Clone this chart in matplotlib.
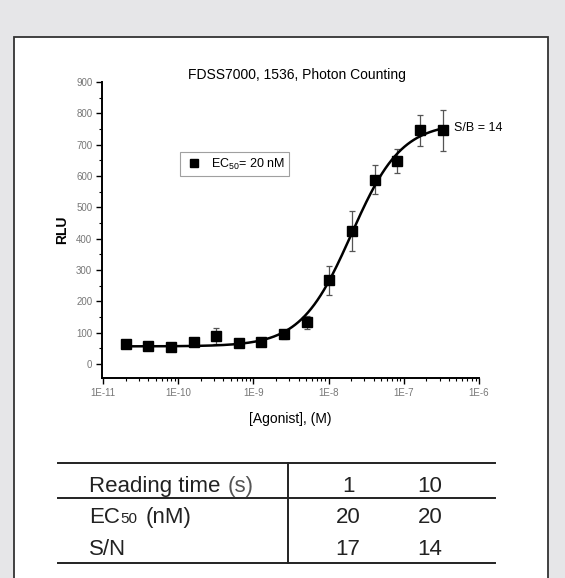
import numpy as np
import matplotlib
matplotlib.use("Agg")
import matplotlib.pyplot as plt
from matplotlib.patches import Rectangle
from matplotlib.ticker import MultipleLocator, LogLocator, NullFormatter, FixedLocator

plt.rcParams['font.family'] = ['Liberation Sans', 'DejaVu Sans']
plt.rcParams['mathtext.fontset'] = 'custom'
plt.rcParams['mathtext.rm'] = 'Liberation Sans'

# dose-response data (2-fold dilution series)
agonist = [2.0e-11, 4.0e-11, 8.0e-11, 1.6e-10, 3.2e-10, 6.4e-10, 1.28e-9, 2.56e-9,
           5.12e-9, 1.02e-8, 2.05e-8, 4.1e-8, 8.2e-8, 1.64e-7, 3.28e-7]
rlu = [63, 56, 53, 70, 90, 66, 70, 94, 133, 267, 424, 588, 648, 746, 746]
rlu_err = [8, 6, 6, 8, 25, 8, 6, 14, 20, 46, 64, 46, 38, 50, 66]

# 4-parameter logistic fit shown in the chart
fit_bottom = 56
fit_top = 770
fit_ec50 = 2.0e-8
fit_hill = 1.3

# x tick labels
x_ticks = [1e-11, 1e-10, 1e-9, 1e-8, 1e-7, 1e-6]
x_tick_labels = ['1E-11', '1E-10', '1E-9', '1E-8', '1E-7', '1E-6']

# summary table
table_header = ["Reading time", "(s)"]
reading_times = ["1", "10"]
ec50_values = ["20", "20"]
sn_values = ["17", "14"]

W, H = 565, 578
bg = '#e6e6e8'
fig = plt.figure(figsize=(W / 100, H / 100), dpi=100, facecolor=bg)

# white panel with border (behind everything)
fig.patches.append(Rectangle((14 / W, -0.05), (548 - 14) / W, 1 - 37 / H + 0.05,
                             transform=fig.transFigure, facecolor='white',
                             edgecolor='#333333', linewidth=1.3, zorder=-10))

ax = fig.add_axes([102 / W, 1 - 378 / H, 377 / W, 296 / H])
ax.set_facecolor('none')

xs = np.logspace(np.log10(agonist[0]), np.log10(agonist[-1]), 300)
fit = fit_bottom + (fit_top - fit_bottom) / (1 + (fit_ec50 / xs) ** fit_hill)
ax.plot(xs, fit, color='black', linewidth=1.8, zorder=2)

ax.errorbar(agonist, rlu, yerr=rlu_err, fmt='none', ecolor='#555555',
            elinewidth=0.9, capsize=2.5, capthick=0.9, zorder=1)
ax.plot(agonist, rlu, 's', color='black', markersize=7.8, zorder=3,
        label=r'EC$_{\mathrm{50}}$= 20 nM')

ax.set_xscale('log')
ax.set_xlim(0.97e-11, 1e-6)
ax.set_ylim(-45, 900)

for s in ['top', 'right']:
    ax.spines[s].set_visible(False)
for s in ['left', 'bottom']:
    ax.spines[s].set_linewidth(1.4)

ax.yaxis.set_major_locator(MultipleLocator(100))
ax.yaxis.set_minor_locator(MultipleLocator(50))
ax.xaxis.set_major_locator(FixedLocator(x_ticks))
ax.set_xticklabels(x_tick_labels)
ax.xaxis.set_minor_locator(LogLocator(base=10, subs=np.arange(2, 10), numticks=20))
ax.xaxis.set_minor_formatter(NullFormatter())

ax.tick_params(which='major', length=4, width=1.0, labelsize=7, labelcolor='#777777', pad=3)
ax.tick_params(which='minor', length=2.5, width=0.8)

ax.set_title('FDSS7000, 1536, Photon Counting', fontsize=10, pad=1.5, x=0.518)
ax.set_ylabel('RLU', fontsize=10, fontweight='bold', labelpad=5)
ax.set_xlabel('[Agonist], (M)', fontsize=10, labelpad=10)

ax.text(4.7e-7, 752, 'S/B = 14', fontsize=9, ha='left', va='center')

leg = ax.legend(loc='upper left', bbox_to_anchor=(0.207, 0.762), fancybox=False,
                edgecolor='#888888', fontsize=9, markerscale=0.75, handlelength=1.5,
                borderpad=0.35, handletextpad=0.6, borderaxespad=0)
leg.get_frame().set_linewidth(0.8)

# summary table, drawn in pixel coordinates
tab = fig.add_axes([0, 0, 1, 1])
tab.set_xlim(0, W)
tab.set_ylim(H, 0)
tab.axis('off')
tab.set_facecolor('none')
line_kw = dict(color='#222222', linewidth=1.4)
for yy in [463, 498, 563]:
    tab.plot([58, 495], [yy, yy], **line_kw)
tab.plot([288, 288], [463, 563], **line_kw)

fs = 16
tab.text(89, 492, table_header[0], fontsize=fs, va='baseline', ha='left', color='#222222')
tab.text(228, 492, table_header[1], fontsize=fs, va='baseline', ha='left', color='#555555')
tab.text(89, 523, 'EC', fontsize=fs, va='baseline', ha='left', color='#222222')
tab.text(120, 523, '50', fontsize=11, va='baseline', ha='left', color='#222222')
tab.text(146, 523, '(nM)', fontsize=fs, va='baseline', ha='left', color='#222222')
tab.text(89, 555, 'S/N', fontsize=fs, va='baseline', ha='left', color='#222222')
col_x = [348, 430]
for row_y, vals in zip([492, 523, 555], [reading_times, ec50_values, sn_values]):
    for cx, v in zip(col_x, vals):
        tab.text(cx, row_y, v, fontsize=fs, va='baseline', ha='center', color='#222222')

fig.savefig('out.png', dpi=100, facecolor=bg)
